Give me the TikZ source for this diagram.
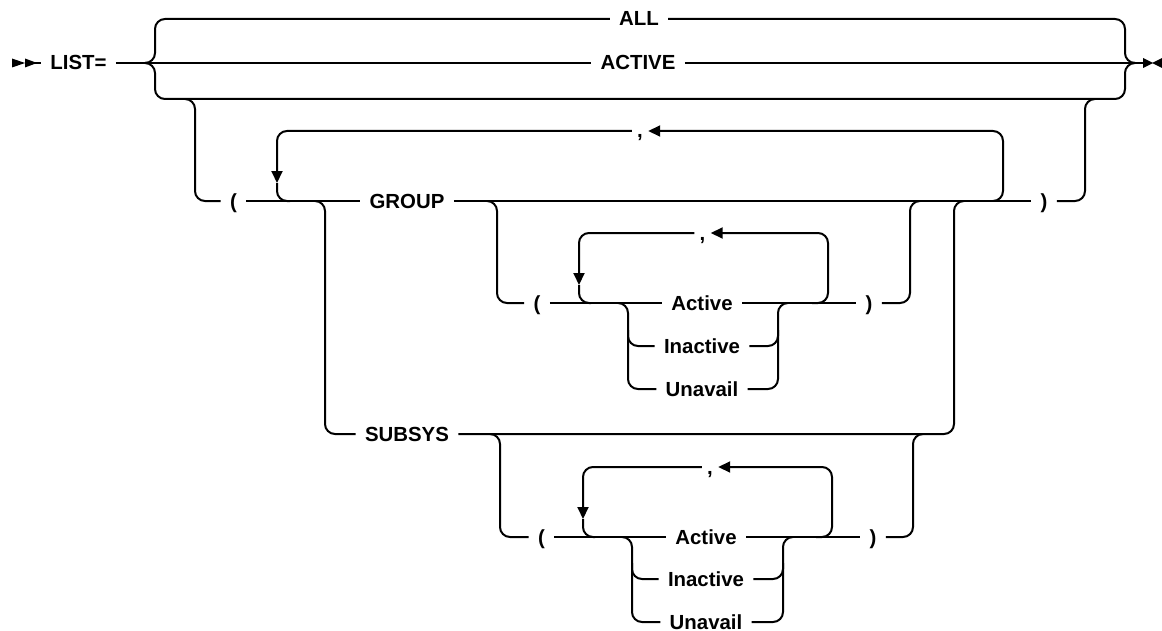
\documentclass[tikz,border=0pt]{standalone}
\usepackage{fontspec}
\setmainfont{Liberation Sans}
\usetikzlibrary{arrows.meta}
\begin{document}
\begin{tikzpicture}[x=0.5pt,y=-0.5pt,
 rail/.style={line width=1pt,rounded corners=5pt},
 back/.style={rail,-{Triangle[length=6pt,width=5.5pt]}},
 kw/.style={font=\bfseries\fontsize{10.2}{12}\selectfont,inner xsep=4.5pt,inner ysep=0pt,text height=7pt,text depth=0pt},
 sep/.style={kw,inner xsep=2.5pt}]
\useasboundingbox (0,0) rectangle (1162,631);
% keywords
\node[kw] (list) at (78.5,63) {LIST=};
\node[kw] (all) at (639,19) {ALL};
\node[kw] (active) at (638,63) {ACTIVE};
\node[kw] (lp) at (233.5,201) {(};
\node[kw] (group) at (407,201) {GROUP};
\node[kw] (rp) at (1044,201) {)};
\node[sep] (c1) at (640,131) {,};
\node[kw] (lpg) at (537,303) {(};
\node[kw] (actg) at (702,303) {Active};
\node[kw] (inag) at (702,346) {Inactive};
\node[kw] (unag) at (702,389) {Unavail};
\node[sep] (c2) at (702.5,233) {,};
\node[kw] (rpg) at (869,303) {)};
\node[kw] (subsys) at (407,434) {SUBSYS};
\node[kw] (lps) at (541.5,537) {(};
\node[kw] (acts) at (706,537) {Active};
\node[kw] (inas) at (706,579) {Inactive};
\node[kw] (unas) at (706,622) {Unavail};
\node[sep] (c3) at (710,467) {,};
\node[kw] (rps) at (873,537) {)};
% junctions
\coordinate (start) at (25,63);
\coordinate (fin) at (1143,63);
\coordinate (jL) at (146,63);
\coordinate (jR) at (1134,63);
\coordinate (d0) at (185,99);
\coordinate (u0) at (1095,99);
\coordinate (l1) at (993,201);
\coordinate (a1) at (277,183);
\coordinate (m1) at (290,201);
\coordinate (d1) at (315,201);
\coordinate (u1) at (964,201);
\coordinate (d2) at (487,201);
\coordinate (u2) at (920,201);
\coordinate (l2) at (812,303);
\coordinate (a2) at (579,285);
\coordinate (m2) at (591,303);
\coordinate (d3) at (618,303);
\coordinate (b3) at (628,330);
\coordinate (b4) at (778,330);
\coordinate (u3) at (788,303);
\coordinate (d4) at (490,434);
\coordinate (u4) at (923,434);
\coordinate (l5) at (816,537);
\coordinate (a5) at (583,519);
\coordinate (m5) at (595,537);
\coordinate (d6) at (622,537);
\coordinate (b6) at (632,563);
\coordinate (b7) at (783,563);
\coordinate (u6) at (793,537);
% ends
\fill (12,58.5) -- (25,63) -- (12,67.5) -- cycle;
\fill (25,58.5) -- (37,63) -- (25,67.5) -- cycle;
\fill (1143,58) -- (1153,63) -- (1143,68) -- cycle;
\fill (1162,58) -- (1152,63) -- (1162,68) -- cycle;
% main choice
\draw[rail] (start) -- (list) -- (active) -- (fin);
\draw[rail] (jL) -| (155,19) -- (all);
\draw[rail] (all) -| (1125,63) -- (jR);
\draw[rail] (jL) -| (155,99) -| (1125,63) -- (jR);
\draw[rail] (d0) -| (195,201) -- (lp);
\draw[rail] (rp) -| (1085,99) -- (u0);
% outer list
\draw[rail] (lp) -- (group) -- (rp);
\draw[back] (l1) -| (1003,131) -- (c1);
\draw[back] (c1) -| (a1);
\draw[rail] (a1) |- (m1);
\draw[rail] (d1) -| (325,434) -- (subsys);
\draw[rail] (subsys) -| (954,201) -- (u1);
% GROUP states
\draw[rail] (d2) -| (497,303) -- (lpg);
\draw[rail] (lpg) -- (actg) -- (rpg);
\draw[rail] (rpg) -| (910,201) -- (u2);
\draw[back] (l2) -| (828,233) -- (c2);
\draw[back] (c2) -| (a2);
\draw[rail] (a2) |- (m2);
\draw[rail] (d3) -| (628,389) -- (unag);
\draw[rail] (b3) |- (inag);
\draw[rail] (unag) -| (778,303) -- (u3);
\draw[rail] (inag) -| (b4);
% SUBSYS states
\draw[rail] (d4) -| (500,537) -- (lps);
\draw[rail] (lps) -- (acts) -- (rps);
\draw[rail] (rps) -| (913,434) -- (u4);
\draw[back] (l5) -| (832,467) -- (c3);
\draw[back] (c3) -| (a5);
\draw[rail] (a5) |- (m5);
\draw[rail] (d6) -| (632,622) -- (unas);
\draw[rail] (b6) |- (inas);
\draw[rail] (unas) -| (783,537) -- (u6);
\draw[rail] (inas) -| (b7);
\end{tikzpicture}
\end{document}
